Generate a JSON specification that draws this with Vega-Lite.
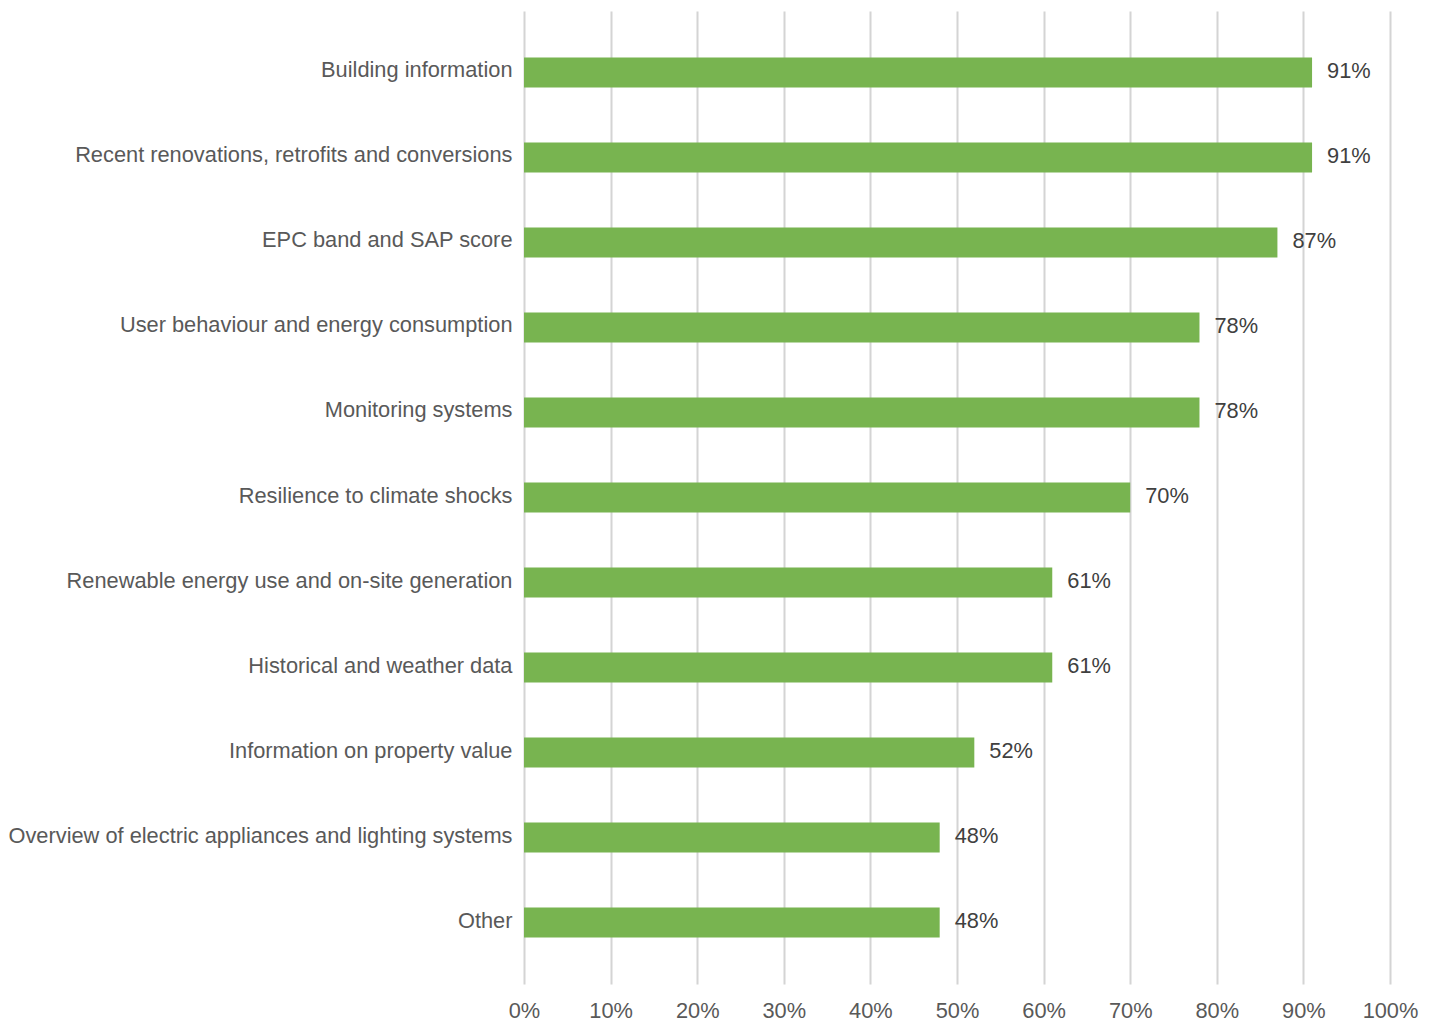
{
  "$schema": "https://vega.github.io/schema/vega-lite/v6.json",
  "autosize": "none",
  "width": 866,
  "height": 973,
  "padding": {"left": 524, "top": 11, "right": 47, "bottom": 37},
  "background": "white",
  "config": {
    "view": {"stroke": null},
    "font": "Liberation Sans"
  },
  "data": {
    "values": [
      {"category": "Building information", "value": 0.91},
      {"category": "Recent renovations, retrofits and conversions", "value": 0.91},
      {"category": "EPC band and SAP score", "value": 0.87},
      {"category": "User behaviour and energy consumption", "value": 0.78},
      {"category": "Monitoring systems", "value": 0.78},
      {"category": "Resilience to climate shocks", "value": 0.70},
      {"category": "Renewable energy use and on-site generation", "value": 0.61},
      {"category": "Historical and weather data", "value": 0.61},
      {"category": "Information on property value", "value": 0.52},
      {"category": "Overview of electric appliances and lighting systems", "value": 0.48},
      {"category": "Other", "value": 0.48}
    ]
  },
  "encoding": {
    "y": {
      "field": "category",
      "type": "nominal",
      "sort": null,
      "scale": {"paddingInner": 0.647, "paddingOuter": 0.547},
      "axis": {
        "title": null,
        "ticks": false,
        "domain": false,
        "labelFontSize": 21.8,
        "labelColor": "#595959",
        "labelPadding": 12,
        "labelOffset": -2,
        "labelLimit": 700
      }
    },
    "x": {
      "field": "value",
      "type": "quantitative",
      "scale": {"domain": [0, 1]},
      "axis": {
        "title": null,
        "values": [0, 0.1, 0.2, 0.3, 0.4, 0.5, 0.6, 0.7, 0.8, 0.9, 1],
        "format": ".0%",
        "ticks": false,
        "domain": false,
        "grid": true,
        "gridColor": "#d4d4d4",
        "gridWidth": 2,
        "labelFontSize": 21.8,
        "labelColor": "#595959",
        "labelPadding": 16,
        "labelAlign": "center",
        "labelFlush": false
      }
    }
  },
  "layer": [
    {"mark": {"type": "bar", "color": "#78b450"}},
    {
      "mark": {"type": "text", "align": "left", "baseline": "middle", "dx": 15, "dy": -1.5, "fontSize": 21.8, "color": "#404040"},
      "encoding": {"text": {"field": "value", "type": "quantitative", "format": ".0%"}}
    }
  ]
}
